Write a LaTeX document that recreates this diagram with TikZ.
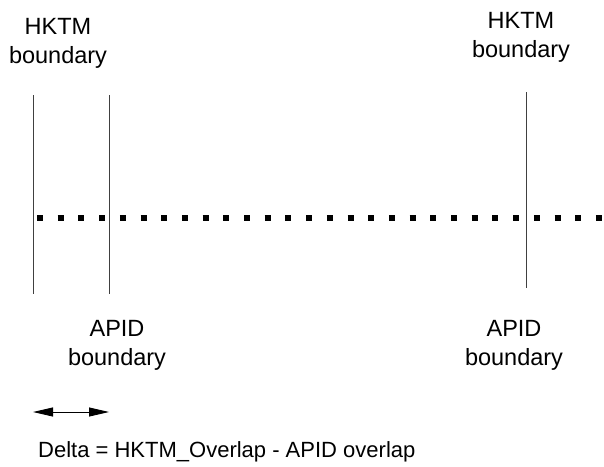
\documentclass[tikz,border=0pt]{standalone}
\usepackage{fontspec}
\setmainfont{Liberation Sans}
\usetikzlibrary{arrows.meta}

\tikzset{
  limite/.style={draw=black!75, line width=0.9pt},
  etiquette/.style={align=center, inner sep=0pt, font=\fontsize{23.5}{29}\selectfont},
  pointilles/.style={line width=6pt, dash pattern=on 6pt off 14.7pt},
  delta/.style={line width=0.9pt, {Triangle[length=20pt,width=9pt]}-{Triangle[length=20pt,width=9pt]}}
}

\begin{document}
\begin{tikzpicture}[x=1pt,y=-1pt]
      \useasboundingbox (0,0) rectangle (604,466);

      %lignes verticales
      \coordinate (hL1) at (33,95);   \coordinate (bL1) at (33,294);
      \coordinate (hL2) at (109,95);  \coordinate (bL2) at (109,294);
      \coordinate (hR) at (526,92);   \coordinate (bR) at (526,288);
      \draw[limite] (hL1) -- (bL1);
      \draw[limite] (hL2) -- (bL2);
      \draw[limite] (hR) -- (bR);

      %ligne pointillee
      \coordinate (pA) at (37,218);
      \coordinate (pB) at (606,218);
      \draw[pointilles] (pA) -- (pB);

      %etiquettes (ancre base = ligne du bas)
      \node (hktmL) at (58,63) [etiquette, anchor=base] {HKTM\\boundary};
      \node (hktmR) at (521,57) [etiquette, anchor=base] {HKTM\\boundary};
      \node (apidL) at (117,365) [etiquette, anchor=base] {APID\\boundary};
      \node (apidR) at (514,365) [etiquette, anchor=base] {APID\\boundary};

      %fleche delta
      \coordinate (dA) at (33,412);
      \coordinate (dB) at (109,412);
      \draw[delta] (dA) -- (dB);
      \node (delta) at (38,457) [etiquette, anchor=base west, font=\fontsize{22}{29}\selectfont] {Delta = HKTM\_Overlap - APID overlap};
\end{tikzpicture}
\end{document}
